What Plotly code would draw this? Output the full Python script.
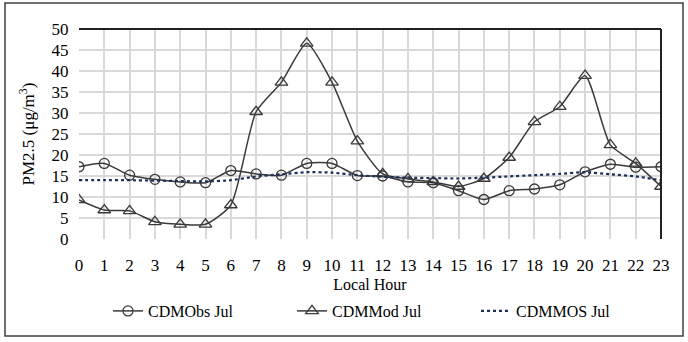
import plotly.graph_objects as go

hours = list(range(24))
obs = [17.2, 18.0, 15.2, 14.2, 13.6, 13.4, 16.3, 15.5, 15.2, 18.0, 18.0, 15.1,
       15.0, 13.6, 13.4, 11.5, 9.4, 11.5, 11.9, 12.9, 16.0, 17.8, 17.1, 17.2]
mod = [9.3, 6.9, 6.7, 4.1, 3.5, 3.5, 8.1, 30.3, 37.3, 46.6, 37.3, 23.3,
       15.5, 14.3, 13.6, 12.5, 14.4, 19.4, 27.9, 31.5, 38.9, 22.4, 18.0, 12.5]
mos = [14.0, 14.0, 14.0, 13.9, 13.8, 13.7, 14.0, 14.9, 15.4, 15.9, 15.8, 15.2,
       14.8, 14.6, 14.5, 14.4, 14.6, 14.9, 15.2, 15.5, 15.9, 15.4, 14.9, 14.0]
names = ["CDMObs Jul", "CDMMod Jul", "CDMMOS Jul"]
y_ticks = list(range(0, 51, 5))

FONT = "Liberation Serif"
LINE = "#3a3a3a"

fig = go.Figure()
fig.add_trace(go.Scatter(x=hours, y=obs, name=names[0], mode="lines+markers",
                         line=dict(color=LINE, width=1.5, shape="spline", smoothing=0.6),
                         marker=dict(symbol="circle", size=10, color="rgba(255,255,255,0)",
                                     line=dict(color=LINE, width=1.3))))
fig.add_trace(go.Scatter(x=hours, y=mod, name=names[1], mode="lines+markers",
                         line=dict(color=LINE, width=1.5, shape="spline", smoothing=0.6),
                         marker=dict(symbol="triangle-up", size=11, color="rgba(255,255,255,0)",
                                     line=dict(color=LINE, width=1.3))))
fig.add_trace(go.Scatter(x=hours, y=mos, name=names[2], mode="lines",
                         line=dict(color="#1a2f5c", width=2.2, dash="dot", shape="spline", smoothing=0.6)))

L, R, T, B = 79, 27, 29, 103
W, H = 688, 342
pw, ph = W - L - R, H - T - B

def px(x):
    return (x - L) / pw

def py(y):
    return (H - B - y) / ph

shapes = [
    dict(type="rect", xref="paper", yref="paper", x0=px(5), x1=px(683), y0=py(336), y1=py(3),
         line=dict(color="#404040", width=1.5), layer="below"),
    dict(type="line", xref="paper", yref="paper", x0=0, x1=1, y0=1, y1=1,
         line=dict(color="#222222", width=2)),
    dict(type="line", xref="paper", yref="paper", x0=1, x1=1, y0=0, y1=1,
         line=dict(color="#222222", width=2)),
]

fig.update_layout(
    width=W, height=H,
    margin=dict(l=L, r=R, t=T, b=B),
    paper_bgcolor="white", plot_bgcolor="white",
    font=dict(family=FONT, size=16, color="#000000"),
    shapes=shapes,
    xaxis=dict(range=[0, 23], tickmode="array", tickvals=hours, ticktext=[str(h) for h in hours],
               showgrid=True, gridcolor="#d9d9d9", gridwidth=1.5, zeroline=False,
               showline=False, ticks="outside", ticklen=11, tickcolor="rgba(0,0,0,0)",
               tickfont=dict(size=17),
               title=dict(text="Local Hour", font=dict(size=16), standoff=4)),
    yaxis=dict(range=[0, 50], tickmode="array", tickvals=y_ticks,
               showgrid=True, gridcolor="#d9d9d9", gridwidth=1.5, zeroline=False,
               showline=False, ticks="outside", ticklen=6, tickcolor="rgba(0,0,0,0)",
               tickfont=dict(size=17),
               title=dict(text="PM2.5 (μg/m<sup>3</sup>)", font=dict(size=17), standoff=12)),
    legend=dict(orientation="h", x=px(108), xanchor="left", y=py(311), yanchor="middle",
                font=dict(size=16), entrywidth=139, bgcolor="rgba(0,0,0,0)",
                itemwidth=30),
    showlegend=True,
)

fig.write_html("out.html", config={"displayModeBar": False},
               post_script="document.body.style.margin='0';")
